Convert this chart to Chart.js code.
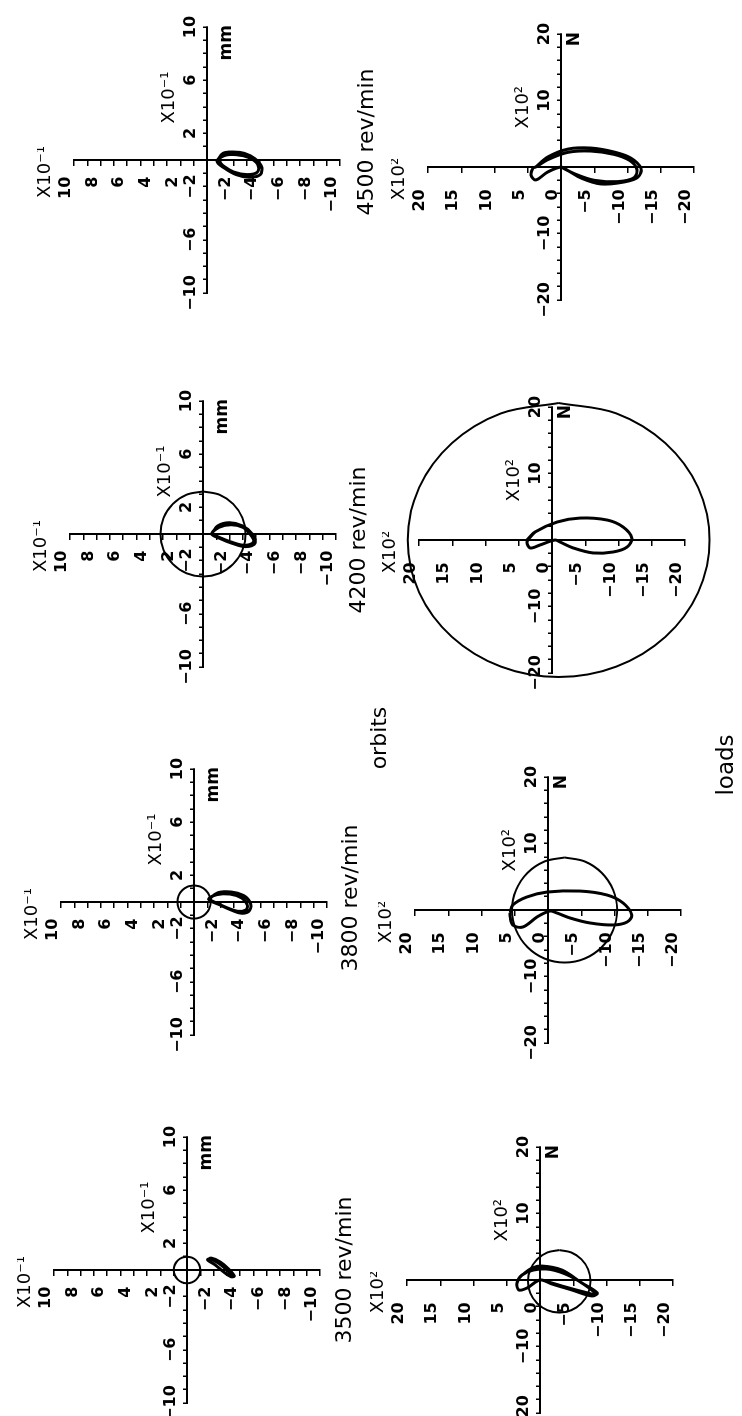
<!DOCTYPE html>
<html>
<head>
<meta charset="utf-8">
<script src="https://cdn.jsdelivr.net/npm/chart.js@4.4.1/dist/chart.umd.min.js"></script>
<style>
  html, body { margin: 0; padding: 0; background: #fff; }
  body { width: 742px; height: 1416px; overflow: hidden; position: relative; }
  /* the figure is laid out landscape and turned a quarter turn, like the scan */
  #page { position: absolute; left: 0; top: 0; width: 1416px; height: 742px;
          transform-origin: 0 0; transform: translateY(1416px) rotate(-90deg); }
  #page canvas { position: absolute; }
  .lbl { position: absolute; transform: translate(-50%, -50%); color: #000;
         font-family: "DejaVu Sans", sans-serif; white-space: nowrap; }
</style>
</head>
<body>
<div id="page"></div>
<script>
// values: orbits in units of 0.1 mm, loads in units of 100 N
const speeds = ['3500 rev/min', '3800 rev/min', '4200 rev/min', '4500 rev/min'];

const orbitXLabels = [-10, -6, -2, 2, 6, 10];
const orbitYLabels = [-10, -8, -6, -4, -2, 2, 4, 6, 8, 10];
const loadXLabels = [-20, -10, 10, 20];
const loadYLabels = [-20, -15, -10, -5, 0, 5, 10, 15, 20];

// orbit traces [x, y]
const orbit3500 = [[0.75,-1.55],[0.9,-1.8],[0.6,-2.5],[0.1,-3.1],[-0.45,-3.55],[-0.5,-3.3],[-0.1,-2.7],[0.4,-2.1],[0.75,-1.55],[0.85,-1.75],[0.5,-2.4],[0.0,-3.0],[-0.4,-3.4]];
const orbit3800 = [[0.2,-1.1],[0.7,-1.8],[0.75,-2.8],[0.5,-3.7],[0.0,-4.2],[-0.6,-4.2],[-0.85,-3.6],[-0.6,-2.8],[-0.2,-1.9],[0.2,-1.1],[0.55,-1.7],[0.6,-2.7],[0.3,-3.6],[-0.2,-4.0],[-0.6,-3.9],[-0.7,-3.3],[-0.4,-2.4],[0.2,-1.1]];
const orbit4200 = [[0.0,-0.65],[0.6,-1.1],[0.85,-2.0],[0.6,-3.0],[0.0,-3.7],[-0.7,-3.9],[-0.95,-3.2],[-0.7,-2.2],[-0.3,-1.2],[0.0,-0.65],[0.5,-1.2],[0.7,-2.1],[0.5,-3.0],[-0.1,-3.6],[-0.6,-3.8],[-0.85,-3.1],[-0.6,-2.1],[-0.2,-1.1],[0.0,-0.65]];
const orbit4500 = [[-0.1,-0.75],[0.5,-1.2],[0.6,-2.0],[0.5,-2.8],[0.1,-3.6],[-0.5,-4.1],[-1.1,-4.0],[-1.3,-3.2],[-1.1,-2.2],[-0.6,-1.3],[-0.1,-0.75],[0.35,-1.35],[0.4,-2.2],[0.2,-3.1],[-0.3,-3.8],[-0.9,-3.8],[-1.1,-3.0],[-0.9,-2.0],[-0.5,-1.3],[-0.1,-0.9]];

// load traces [x, y]
const load3500 = [[0.75,2.7],[1.8,1.2],[2.1,-0.3],[1.5,-3.3],[-0.45,-6.3],[-1.95,-8.6],[-2.4,-7.8],[-1.5,-4.8],[-0.6,-1.8],[0,0],[-1.2,1.95],[-1.5,3.2],[-0.45,3.45],[0.75,2.7],[1.5,1.0],[1.6,-1.5],[0.6,-4.5],[-1.2,-7.4],[-2.2,-8.4],[-1.8,-6.6],[-0.9,-3.3],[0,-0.3]];
const load3800 = [[-0.45,5.7],[0.75,5.3],[1.95,3.2],[2.7,0.15],[2.85,-4.8],[2.25,-8.9],[1.05,-11.3],[-0.75,-12.6],[-1.8,-11.9],[-2.25,-9.8],[-1.95,-6.3],[-1.2,-3.3],[-0.45,-1.35],[-0.15,-0.3],[-1.05,1.65],[-2.55,3.75],[-2.25,5.3],[-1.05,5.7],[-0.45,5.7]];
const load4200 = [[0,3.75],[1.2,2.55],[2.7,-0.75],[3.3,-4.2],[3.0,-8.3],[1.95,-10.7],[0.3,-12.0],[-1.05,-11.3],[-1.8,-9.2],[-1.95,-6.2],[-1.2,-3.2],[-0.3,-1.2],[0,-0.45],[-0.75,1.8],[-1.2,3.3],[-0.3,3.75],[0.75,3.0],[1.2,2.55]];
const load4500 = [[0,3.8],[1.5,2.0],[2.7,-1.05],[2.85,-4.5],[2.25,-8.0],[1.35,-10.5],[-0.15,-12.0],[-1.5,-11.6],[-2.25,-9.5],[-2.55,-6.0],[-1.65,-3.0],[-0.45,-0.9],[0,0],[-0.75,2.0],[-1.95,3.8],[-1.2,4.5],[-0.15,4.2],[0,3.8],[1.1,2.0],[2.2,-1.0],[2.4,-4.5],[1.9,-8.0],[1.0,-10.3],[-0.3,-11.4],[-1.6,-11.0],[-2.2,-8.5],[-2.0,-5.0],[-1.0,-2.0],[0,0]];

// reference circles: [centre x, centre y, radius along x, radius along y]
const orbitCircles = [[0, 0, 1.0, 1.0], [0, 0, 1.25, 1.25], [0, 0, 3.2, 3.2], null];
const loadCircles = [[-0.2, -2.9, 4.7, 4.7], [0, -2.5, 7.9, 7.9], [0, -1.0, 20.6, 22.7], null];

// points of a unit circle, every 22.5 degrees
const unitCircle = [[1,0],[0.924,0.383],[0.707,0.707],[0.383,0.924],[0,1],[-0.383,0.924],[-0.707,0.707],[-0.924,0.383],[-1,0],[-0.924,-0.383],[-0.707,-0.707],[-0.383,-0.924],[0,-1],[0.383,-0.924],[0.707,-0.707],[0.924,-0.383],[1,0]];

const orbits = [orbit3500, orbit3800, orbit4200, orbit4500];
const loads = [load3500, load3800, load4200, load4500];

// panel centres on the landscape page
const orbitPos = [[146, 187], [514, 194], [882, 203], [1256, 207]];
const loadPos = [[136, 540], [506, 548], [876, 552], [1249, 561]];

const FONT = '"DejaVu Sans", sans-serif';
const page = document.getElementById('page');

function minus(v) {
  return String(v).replace('-', '\u2212');
}

function toPts(arr) {
  return arr.map((p) => ({ x: p[0], y: p[1] }));
}

function circlePts(c) {
  return unitCircle.map((p) => ({ x: c[0] + p[0] * c[2], y: c[1] + p[1] * c[3] }));
}

// scale factors and unit written next to the axes
const panelText = {
  id: 'panelText',
  afterDraw(chart, args, opts) {
    const ctx = chart.ctx;
    const x = chart.scales.x;
    const y = chart.scales.y;
    const x0 = x.getPixelForValue(0);
    const y0 = y.getPixelForValue(0);
    ctx.save();
    ctx.fillStyle = '#000';
    ctx.font = '18px ' + FONT;
    ctx.textBaseline = 'middle';
    ctx.textAlign = 'center';
    ctx.fillText(opts.exp, x0 - 12, y.getPixelForValue(y.max) - 29);
    ctx.fillText(opts.exp, x.getPixelForValue(opts.expAt), y0 - 38);
    ctx.textAlign = 'right';
    ctx.font = 'bold 17px ' + FONT;
    ctx.fillText(opts.unit, x.getPixelForValue(x.max) + 2, y0 + opts.unitGap);
    ctx.restore();
  },
};

function addPanel(pos, cfg, curve, circle) {
  const cv = document.createElement('canvas');
  cv.width = 340;
  cv.height = 340;
  cv.style.left = pos[0] - 170 + 'px';
  cv.style.top = pos[1] - 170 + 'px';
  page.appendChild(cv);

  const datasets = [{ data: toPts(curve), borderWidth: 3 }];
  if (circle) datasets.push({ data: circlePts(circle), borderWidth: 2 });
  datasets.forEach((d) =>
    Object.assign(d, { showLine: true, pointRadius: 0, borderColor: '#000', tension: 0.35, clip: false })
  );

  const lim = cfg.lim;
  return new Chart(cv, {
    type: 'scatter',
    data: { datasets: datasets },
    options: {
      responsive: false,
      animation: false,
      events: [],
      layout: { padding: 37 },
      plugins: {
        legend: { display: false },
        tooltip: { enabled: false },
        panelText: { exp: cfg.exp, expAt: cfg.expAt, unit: cfg.unit, unitGap: cfg.unitGap },
      },
      scales: {
        x: {
          type: 'linear',
          min: -lim,
          max: lim,
          position: { y: 0 },
          border: { color: '#000', width: 2 },
          grid: { drawOnChartArea: false, color: '#000', lineWidth: 1.5, tickLength: -5 },
          ticks: {
            stepSize: cfg.xStep,
            maxTicksLimit: 100,
            autoSkip: false,
            maxRotation: 0,
            minRotation: 0,
            padding: -21,
            color: '#000',
            font: { family: FONT, size: 16, weight: 'bold' },
            callback: (v) => (cfg.xLabels.includes(v) ? minus(v) : ''),
          },
        },
        y: {
          type: 'linear',
          min: -lim,
          max: lim,
          position: { x: 0 },
          border: { color: '#000', width: 2 },
          grid: { drawOnChartArea: false, color: '#000', lineWidth: 1.5, tickLength: 5 },
          ticks: {
            stepSize: cfg.yStep,
            maxTicksLimit: 100,
            autoSkip: false,
            align: 'end',
            color: '#000',
            font: { family: FONT, size: 16, weight: 'bold' },
            callback: (v) => (cfg.yLabels.includes(v) ? minus(v) + cfg.gap : ''),
          },
        },
      },
    },
    plugins: [panelText],
  });
}

const orbitCfg = {
  lim: 10, xStep: 1, yStep: 1, xLabels: orbitXLabels, yLabels: orbitYLabels,
  exp: 'X10\u207B\u00B9', expAt: 4.7, unit: 'mm', unitGap: 20, gap: '   ',
};
const loadCfg = {
  lim: 20, xStep: 2, yStep: 5, xLabels: loadXLabels, yLabels: loadYLabels,
  exp: 'X10\u00B2', expAt: 9, unit: 'N', unitGap: 14, gap: '    ',
};

for (let i = 0; i < 4; i++) {
  addPanel(orbitPos[i], orbitCfg, orbits[i], orbitCircles[i]);
  addPanel(loadPos[i], loadCfg, loads[i], loadCircles[i]);
}

function addText(txt, x, y, size) {
  const d = document.createElement('div');
  d.className = 'lbl';
  d.textContent = txt;
  d.style.left = x + 'px';
  d.style.top = y + 'px';
  d.style.fontSize = size + 'px';
  page.appendChild(d);
}

// speed captions under the orbit panels
const speedPos = [[146, 343], [518, 349], [876, 357], [1274, 365]];
speeds.forEach((s, i) => addText(s, speedPos[i][0], speedPos[i][1], 22));

addText('orbits', 678, 378, 22);
addText('loads', 651, 725, 23);
</script>
</body>
</html>
